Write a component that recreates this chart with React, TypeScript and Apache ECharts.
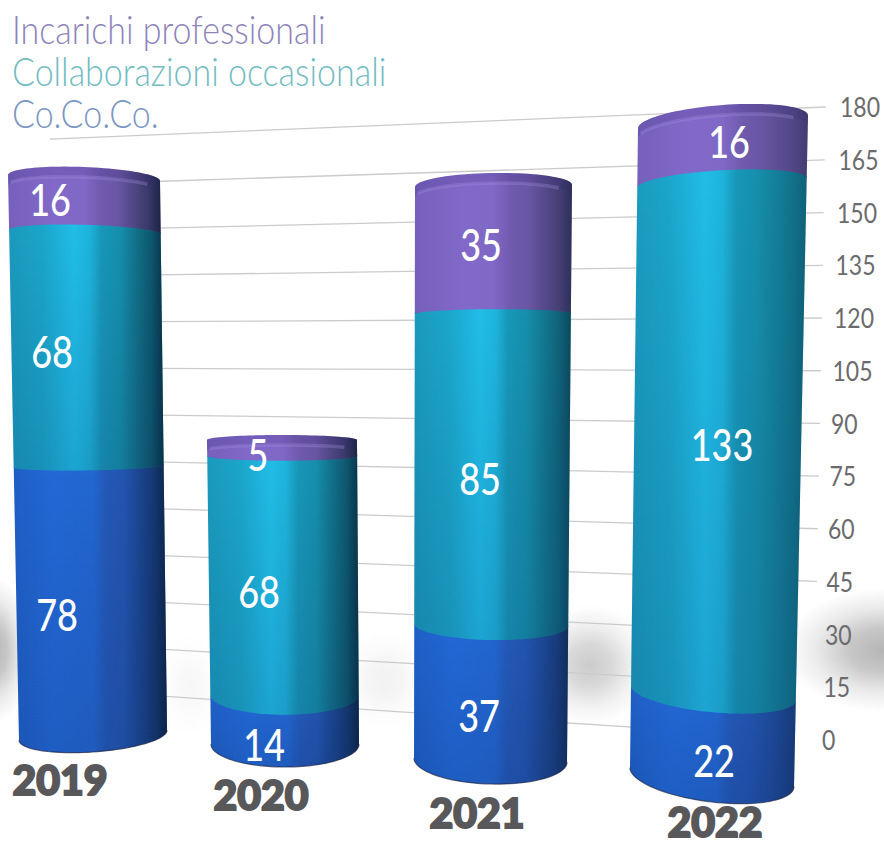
import React, { useEffect, useRef } from "react";
import * as echarts from "echarts";

// Headcounts per year, stacked from the bottom of each cylinder.
const years = ["2019", "2020", "2021", "2022"];
const coCoCo = [78, 14, 37, 22];
const collaborazioni = [68, 68, 85, 133];
const incarichi = [16, 5, 35, 16];
const scaleTicks = [0, 15, 30, 45, 60, 75, 90, 105, 120, 135, 150, 165, 180];
const seriesNames = ["Co.Co.Co.", "Collaborazioni occasionali", "Incarichi professionali"];
const legendLabels = ["Incarichi professionali", "Collaborazioni occasionali", "Co.Co.Co."];
const stacks = [coCoCo, collaborazioni, incarichi];

const FONT = "Lato, 'Open Sans', sans-serif";

// Perspective placement of each cylinder: pixel span of its own axis, edge x at top and bottom.
const barLayout = [
  { top: 167, bottom: 752, xTop: [8, 160], xBot: [19, 167], curve: 0.046, lean: -0.027, capDrop: 11, capLift: 0, edgeShade: 0.72, labelX: [57, 52, 50], yearX: 60, yearY: 779 },
  { top: 442, bottom: 767, xTop: [207, 357], xBot: [211, 359], curve: 0.06, lean: 0, capDrop: 5, capLift: 7, edgeShade: 0.72, labelX: [264, 259, 258], yearX: 261, yearY: 794 },
  { top: 173, bottom: 784, xTop: [415, 572], xBot: [414, 567], curve: 0.06, lean: 0.01, capDrop: 13, capLift: 0, edgeShade: 0.5, labelX: [479, 480, 481], yearX: 477, yearY: 812 },
  { top: 105, bottom: 802, xTop: [638, 808], xBot: [630, 794], curve: 0.06, lean: 0.045, capDrop: 17, capLift: 0, edgeShade: 0.25, labelX: [714, 722, 729], yearX: 715, yearY: 821 },
];
const HORIZON = 385;

const stripes: Array<Array<[number, string]>> = [
  [[0, "#1f5fc6"], [0.25, "#2268d6"], [0.52, "#2266d0"], [0.6, "#2359b8"], [0.85, "#214fa6"], [1, "#1d4590"]],
  [[0, "#1a9abd"], [0.22, "#1ba6ca"], [0.42, "#20bde8"], [0.52, "#1eb4dc"], [0.6, "#1797b8"], [0.85, "#14869f"], [1, "#127a92"]],
  [[0, "#7560bb"], [0.3, "#8269c9"], [0.5, "#8068c6"], [0.62, "#6f5aad"], [0.85, "#625199"], [1, "#564889"]],
];
const legendColors = ["#8d84ba", "#72bcc2", "#7c96c4"];

type Bar = (typeof barLayout)[number];

// Front edge of a horizontal ring of cylinder `b` whose front-centre sits at pixel height yf.
function ring(b: Bar, yf: number, drop?: number) {
  const t = (yf - b.top) / (b.bottom - b.top);
  const xl = b.xTop[0] + (b.xBot[0] - b.xTop[0]) * t;
  const xr = b.xTop[1] + (b.xBot[1] - b.xTop[1]) * t;
  const xc = (xl + xr) / 2;
  const hw = (xr - xl) / 2;
  const depth = drop !== undefined ? drop : b.curve * (yf - HORIZON);
  const tilt = (b.lean * (yf - HORIZON)) / 2;
  const pts: number[][] = [];
  for (let i = 0; i <= 48; i++) {
    const a = Math.PI - (Math.PI * i) / 48;
    const u = Math.cos(a);
    pts.push([xc + u * hw, yf - depth * (1 - Math.sin(a)) + tilt * u]);
  }
  return pts;
}

function segmentRenderer(barIdx: number, stackIdx: number) {
  return (_p: any, api: any) => {
    const b = barLayout[barIdx];
    const y0 = api.coord([0, api.value(1)])[1];
    const y1 = api.coord([0, api.value(2)])[1];
    const isTop = stackIdx === 2;
    const low = ring(b, y0);
    const capY = y1 - b.capLift;
    const high = isTop ? ring(b, capY, -b.capDrop) : ring(b, y1 - 1);
    const outline = low.concat(high.slice().reverse());
    const children: any[] = [
      {
        type: "polygon",
        shape: { points: outline },
        style: { fill: new echarts.graphic.LinearGradient(0, 0, 1, 0, stripes[stackIdx].map(([offset, color]) => ({ offset, color }))) },
      },
      {
        // darkening towards the cylinder's right-hand edge
        type: "polygon",
        shape: { points: outline },
        style: {
          fill: new echarts.graphic.LinearGradient(0, 0, 1, 0, [
            { offset: 0.72, color: "rgba(5,25,45,0)" },
            { offset: 0.92, color: `rgba(5,25,45,${b.edgeShade * 0.55})` },
            { offset: 1, color: `rgba(5,25,45,${b.edgeShade})` },
          ]),
        },
      },
    ];
    if (!isTop) {
      children.push({
        type: "polygon",
        shape: { points: outline },
        style: {
          fill: new echarts.graphic.LinearGradient(0, 0, 0, 1, [
            { offset: 0, color: "rgba(10,35,90,0)" },
            { offset: 1, color: "rgba(10,35,90,0.16)" },
          ]),
        },
      });
    }
    if (isTop) {
      const band = Math.min(10, (y0 - capY) * 0.45);
      const rim = ring(b, capY + band, -b.capDrop);
      children.push({
        type: "polygon",
        shape: { points: rim.concat(high.slice().reverse()) },
        style: { fill: "rgba(50,40,110,0.16)" },
      });
      children.push({
        type: "polyline",
        shape: { points: rim.slice(4, 40) },
        style: { stroke: "rgba(170,155,235,0.28)", lineWidth: 3.5, fill: "none" },
      });
    } else if (stackIdx === 0) {
      children.push({
        type: "polyline",
        shape: { points: low },
        style: { stroke: "rgba(30,40,70,0.7)", lineWidth: 1.2, fill: "none" },
      });
    }
    return { type: "group", children };
  };
}

function labelRenderer(barIdx: number, stackIdx: number) {
  return (_p: any, api: any) => {
    const b = barLayout[barIdx];
    const mid = api.coord([0, (api.value(1) + api.value(2)) / 2])[1];
    return {
      type: "text",
      x: b.labelX[stackIdx],
      y: mid + 3,
      scaleY: 1.22,
      style: {
        text: String(api.value(3)),
        fontFamily: FONT,
        fontSize: 36,
        fontWeight: 500,
        fill: "#ffffff",
        align: "center",
        verticalAlign: "middle",
      },
    };
  };
}

function yearRenderer(barIdx: number) {
  return () => {
    const b = barLayout[barIdx];
    return {
      type: "text",
      x: b.yearX,
      y: b.yearY,
      style: {
        text: years[barIdx],
        fontFamily: FONT,
        fontSize: 41,
        fontWeight: 900,
        fill: "#58585b",
        stroke: "#58585b",
        lineWidth: 2,
        align: "center",
        verticalAlign: "middle",
      },
    };
  };
}

// Receding back wall: each gridline runs from the right-hand scale towards the left, closing in.
const WALL = { left: 160, right: 826, top: 107, bottom: 740, farBase: 696, farRatio: 0.887 };

function wallRenderer(_p: any, api: any) {
  const v = api.value(1);
  const yNear = api.coord([1, v])[1];
  const yFar = WALL.farBase - WALL.farRatio * (WALL.bottom - yNear);
  const at = (x: number) => yFar + ((yNear - yFar) * (x - WALL.left)) / (WALL.right - WALL.left);
  const startX = v === 180 ? 50 : 155;
  const endX = v < 45 ? 640 : 814 + 0.065 * v;
  return {
    type: "group",
    children: [
      {
        type: "line",
        shape: { x1: startX, y1: at(startX), x2: endX, y2: at(endX) },
        style: { stroke: "#cbcbcb", lineWidth: 1.3 },
      },
      {
        type: "text",
        x: 822 + 0.1 * v,
        y: yNear,
        scaleY: 1.14,
        style: {
          text: String(v),
          fontFamily: FONT,
          fontSize: 23,
          fill: "#6b6b6e",
          align: "left",
          verticalAlign: "middle",
        },
      },
    ],
  };
}

function softShadow(cx: number, cy: number, rx: number, ry: number, alpha: number) {
  return {
    type: "ellipse",
    z: 0,
    shape: { cx, cy, rx, ry },
    style: {
      fill: new echarts.graphic.RadialGradient(0.5, 0.5, 0.5, [
        { offset: 0, color: `rgba(120,120,122,${alpha})` },
        { offset: 0.35, color: `rgba(120,120,122,${alpha * 0.75})` },
        { offset: 0.7, color: `rgba(130,130,132,${alpha * 0.28})` },
        { offset: 1, color: "rgba(130,130,132,0)" },
      ]),
    },
  };
}

function buildOption() {
  const grids: any[] = [];
  const xAxes: any[] = [];
  const yAxes: any[] = [];
  const series: any[] = [];

  barLayout.forEach((b, i) => {
    const left = Math.min(b.xTop[0], b.xBot[0]);
    const right = Math.max(b.xTop[1], b.xBot[1]);
    grids.push({ left, width: right - left, top: b.top, height: b.bottom - b.top });
    xAxes.push({ gridIndex: i, type: "category", data: [years[i]], show: false });
    const total = stacks[0][i] + stacks[1][i] + stacks[2][i];
    yAxes.push({ gridIndex: i, type: "value", min: 0, max: total, show: false });
  });

  grids.push({ left: WALL.left, width: WALL.right - WALL.left, top: WALL.top, height: WALL.bottom - WALL.top });
  xAxes.push({ gridIndex: 4, type: "value", min: 0, max: 1, show: false });
  yAxes.push({ gridIndex: 4, type: "value", min: 0, max: 180, interval: 15, show: false });

  series.push({
    type: "custom",
    name: "scala",
    xAxisIndex: 4,
    yAxisIndex: 4,
    z: 1,
    data: scaleTicks.map((v) => [1, v]),
    renderItem: wallRenderer,
  });

  barLayout.forEach((_b, i) => {
    let base = 0;
    stacks.forEach((values, s) => {
      const row = [0, base, base + values[i], values[i]];
      base += values[i];
      series.push({
        type: "custom",
        name: seriesNames[s],
        xAxisIndex: i,
        yAxisIndex: i,
        z: 3 + s * 0.1,
        data: [row],
        renderItem: segmentRenderer(i, s),
      });
      series.push({
        type: "custom",
        name: seriesNames[s] + " valore",
        xAxisIndex: i,
        yAxisIndex: i,
        z: 5,
        data: [row],
        renderItem: labelRenderer(i, s),
      });
    });
    series.push({
      type: "custom",
      name: years[i],
      xAxisIndex: i,
      yAxisIndex: i,
      z: 5,
      data: [[0, 0, 0, 0]],
      renderItem: yearRenderer(i),
    });
  });

  const legendY = [29, 71, 113];
  return {
    animation: false,
    backgroundColor: "#ffffff",
    grid: grids,
    xAxis: xAxes,
    yAxis: yAxes,
    series,
    graphic: {
      elements: [
        softShadow(884, 650, 100, 62, 0.55),
        softShadow(590, 665, 62, 60, 0.38),
        softShadow(-6, 650, 38, 72, 0.55),
        softShadow(385, 680, 46, 50, 0.1),
        softShadow(190, 685, 34, 50, 0.06),
        ...legendLabels.map((text, i) => ({
          type: "text",
          z: 6,
          x: 12,
          y: legendY[i],
          scaleY: 1.14,
          style: {
            text,
            fontFamily: FONT,
            fontSize: 34,
            fontWeight: 300,
            fill: legendColors[i],
            align: "left",
            verticalAlign: "middle",
          },
        })),
      ],
    },
  };
}

export default function App() {
  const ref = useRef<HTMLDivElement>(null);
  useEffect(() => {
    const chart = echarts.init(ref.current!, undefined, { renderer: "svg" });
    chart.setOption(buildOption());
    return () => chart.dispose();
  }, []);
  return <div ref={ref} style={{ position: "absolute", left: 0, top: 0, width: 884, height: 845 }} />;
}
